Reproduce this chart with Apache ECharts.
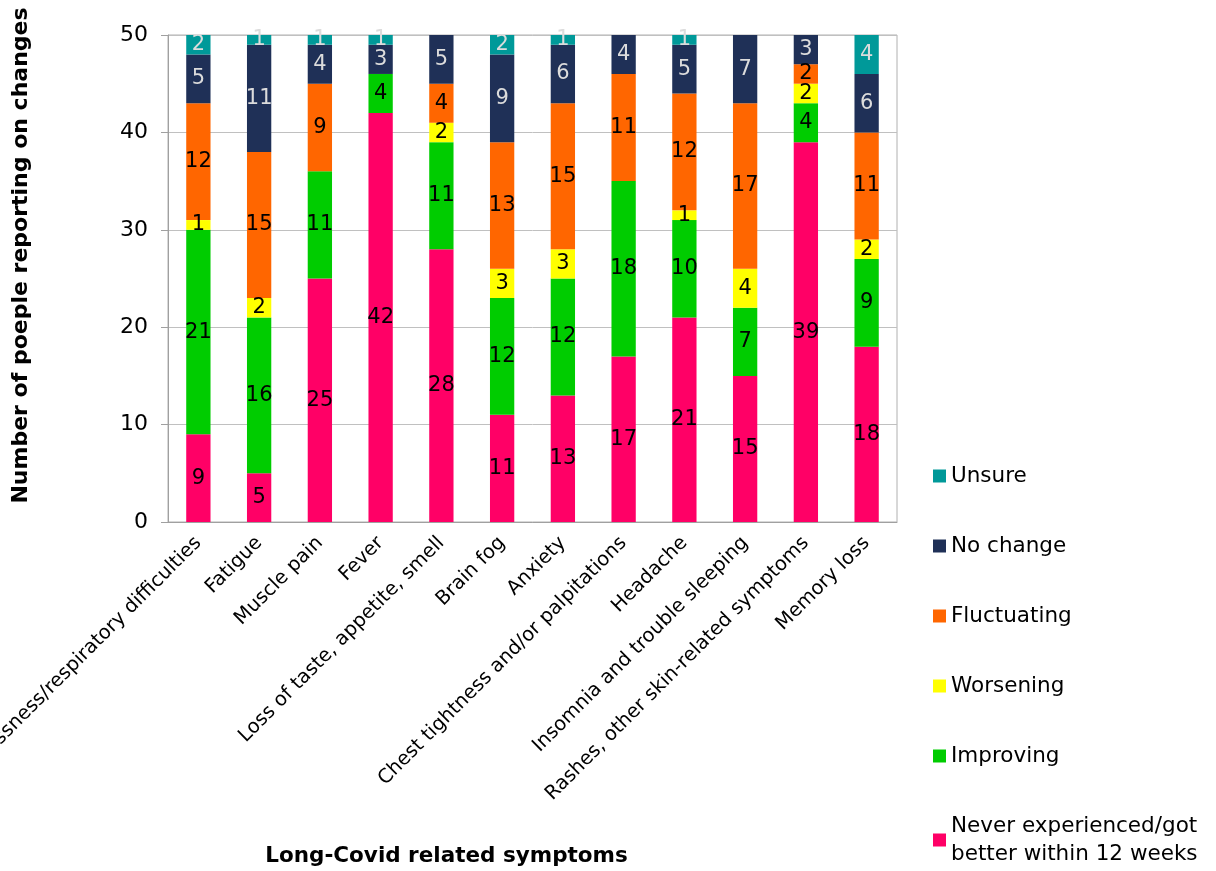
<!DOCTYPE html>
<html>
<head>
<meta charset="utf-8">
<script src="https://cdn.jsdelivr.net/npm/echarts@6/dist/echarts.min.js"></script>
<style>
  html, body { margin: 0; padding: 0; background: #fff; }
  #chart { width: 1216px; height: 871px; }
</style>
</head>
<body>
<div id="chart"></div>
<script>
const symptoms = [
  'Breathlessness/respiratory difficulties', 'Fatigue', 'Muscle pain', 'Fever',
  'Loss of taste, appetite, smell', 'Brain fog', 'Anxiety',
  'Chest tightness and/or palpitations', 'Headache', 'Insomnia and trouble sleeping',
  'Rashes, other skin-related symptoms', 'Memory loss'
]
const never = [9, 5, 25, 42, 28, 11, 13, 17, 21, 15, 39, 18]
const improving = [21, 16, 11, 4, 11, 12, 12, 18, 10, 7, 4, 9]
const worsening = [1, 2, 0, 0, 2, 3, 3, 0, 1, 4, 2, 2]
const fluctuating = [12, 15, 9, 0, 4, 13, 15, 11, 12, 17, 2, 11]
const noChange = [5, 11, 4, 3, 5, 9, 6, 4, 5, 7, 3, 6]
const unsure = [2, 1, 1, 1, 0, 2, 1, 0, 1, 0, 0, 4]

const font = 'DejaVu Sans'

function bar(name, data, color, labelColor) {
  return {
    name: name,
    type: 'bar',
    stack: 'all',
    barWidth: '40%',
    data: data,
    itemStyle: { color: color },
    label: {
      show: true,
      position: 'inside',
      color: labelColor,
      fontFamily: font,
      fontSize: 21,
      formatter: p => p.value === 0 ? '' : p.value
    }
  }
}

let myChart = echarts.init(document.getElementById('chart'))
myChart.setOption({
  animation: false,
  textStyle: { fontFamily: font },
  grid: {
    left: 168, right: 319, top: 35, bottom: 349,
    outerBoundsMode: 'none',
    containLabel: false,
    show: true, borderColor: '#b0b0b0', borderWidth: 1
  },
  legend: {
    orient: 'vertical',
    left: 928,
    top: 457,
    height: 420,
    itemWidth: 13,
    itemHeight: 13,
    itemGap: 42,
    icon: 'rect',
    textStyle: { fontFamily: font, fontSize: 21.5, color: '#000', lineHeight: 28 },
    data: ['Unsure', 'No change', 'Fluctuating', 'Worsening', 'Improving',
      'Never experienced/got\nbetter within 12 weeks']
  },
  xAxis: {
    type: 'category',
    data: symptoms,
    name: 'Long-Covid related symptoms',
    nameLocation: 'middle',
    nameGap: 323,
    nameTextStyle: {
      fontFamily: font, fontSize: 21.5, fontWeight: 'bold', color: '#000',
      padding: [0, 172, 0, 0]
    },
    axisLine: { lineStyle: { color: '#a0a0a0' } },
    axisTick: { alignWithLabel: true, length: 6, lineStyle: { color: '#a0a0a0' } },
    axisLabel: {
      rotate: 45,
      interval: 0,
      margin: 18,
      fontFamily: font,
      fontSize: 19.5,
      color: '#000'
    }
  },
  yAxis: {
    type: 'value',
    min: 0,
    max: 50,
    interval: 10,
    name: 'Number of poeple reporting on changes',
    nameLocation: 'middle',
    nameGap: 136,
    nameTextStyle: {
      fontFamily: font, fontSize: 22, fontWeight: 'bold', color: '#000',
      padding: [0, 0, 0, 46]
    },
    axisLine: { show: true, lineStyle: { color: '#a0a0a0' } },
    axisTick: { show: true, length: 7, lineStyle: { color: '#a0a0a0' } },
    splitLine: { lineStyle: { color: '#c0c0c0' } },
    axisLabel: { fontFamily: font, fontSize: 22, color: '#000', margin: 20 }
  },
  series: [
    bar('Never experienced/got\nbetter within 12 weeks', never, '#FF0066', '#000'),
    bar('Improving', improving, '#00CC00', '#000'),
    bar('Worsening', worsening, '#FFFF00', '#000'),
    bar('Fluctuating', fluctuating, '#FF6600', '#000'),
    bar('No change', noChange, '#1F3057', '#dcdcdc'),
    bar('Unsure', unsure, '#009999', '#dcdcdc')
  ]
})
</script>
</body>
</html>
